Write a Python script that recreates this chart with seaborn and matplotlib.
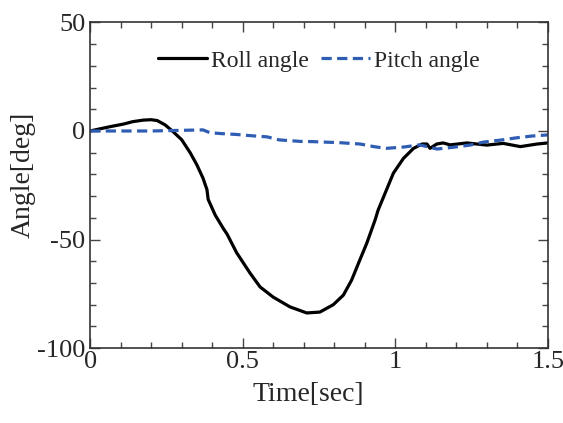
import numpy as np
import pandas as pd
import matplotlib
matplotlib.use("Agg")
import matplotlib.pyplot as plt
import seaborn as sns
from matplotlib.ticker import MultipleLocator

time_roll = [0, 0.016, 0.066, 0.11, 0.14, 0.174, 0.2, 0.22, 0.246, 0.272, 0.30, 0.328,
             0.35, 0.37, 0.383, 0.387, 0.41, 0.437, 0.449, 0.48, 0.524, 0.557, 0.6,
             0.655, 0.71, 0.753, 0.797, 0.83, 0.857, 0.884, 0.907, 0.934, 0.944, 0.967,
             0.994, 1.027, 1.06, 1.088, 1.104, 1.114, 1.136, 1.157, 1.18, 1.235, 1.30,
             1.354, 1.41, 1.465, 1.5]
roll = [0, 0.5, 2.0, 3.2, 4.3, 5.0, 5.2, 4.8, 2.8, -0.3, -4.0, -10.0,
        -15.6, -21.7, -27.0, -31.5, -38.7, -45.0, -47.5, -56.0, -65.4, -71.8, -76.5,
        -81.0, -83.8, -83.4, -80.0, -75.6, -68.7, -59.4, -51.6, -41.0, -36.4, -28.6,
        -19.4, -12.6, -8.0, -6.0, -6.0, -8.0, -6.0, -5.5, -6.4, -5.5, -6.5,
        -5.7, -7.2, -6.0, -5.5]

time_pitch = [0, 0.1, 0.2, 0.3, 0.37, 0.393, 0.43, 0.48, 0.53, 0.58, 0.62, 0.69, 0.73,
              0.82, 0.885, 0.93, 0.97, 1.027, 1.08, 1.137, 1.19, 1.245, 1.29, 1.345,
              1.40, 1.45, 1.5]
pitch = [0, 0, 0, 0.3, 0.5, -0.8, -1.2, -1.6, -2.2, -2.7, -4.1, -4.8, -4.9,
         -5.4, -6.0, -7.2, -8.0, -7.4, -6.4, -8.3, -7.5, -6.5, -5.1, -4.2,
         -3.1, -2.3, -1.8]

series_names = ["Roll angle", "Pitch angle"]
colors = ["#000000", "#2F5DB3"]

df = pd.concat([
    pd.DataFrame({"Time": time_roll, "Angle": roll, "Series": series_names[0]}),
    pd.DataFrame({"Time": time_pitch, "Angle": pitch, "Series": series_names[1]}),
])

sns.set_style("ticks")
plt.rcParams["font.family"] = ["Liberation Serif", "DejaVu Serif"]

fig = plt.figure(figsize=(5.63, 4.23), dpi=100)
ax = fig.add_axes([0.16, 0.177, 0.813, 0.770])

sns.lineplot(data=df, x="Time", y="Angle", hue="Series", style="Series",
             palette=colors, dashes={series_names[0]: "", series_names[1]: (3.2, 1.7)},
             linewidth=2.3, ax=ax, sort=False)
for ln in ax.lines:
    ln.set_solid_joinstyle("round")
    ln.set_solid_capstyle("round")

ax.set_xlim(0, 1.5)
ax.set_ylim(-100, 50)
ax.set_xticks([0, 0.5, 1, 1.5])
ax.set_xticklabels(["0", "0.5", "1", "1.5"])
ax.set_yticks([-100, -50, 0, 50])
ax.set_yticklabels(["-100", "-50", "0", "50"])
ax.xaxis.set_minor_locator(MultipleLocator(0.1))
ax.yaxis.set_minor_locator(MultipleLocator(10))
ax.tick_params(which="both", direction="in", top=True, right=True, labelsize=19,
               color="#444444", width=1.0)
ax.tick_params(axis="x", which="both", pad=2)
ax.tick_params(axis="y", which="both", pad=3.5)
ax.tick_params(which="major", length=7)
ax.tick_params(which="minor", length=4)
for s in ax.spines.values():
    s.set_visible(True)
    s.set_color("#333333")
    s.set_linewidth(1.2)

ax.set_xlabel("Time[sec]", fontsize=20)
ax.set_ylabel("Angle[deg]", fontsize=20)
ax.xaxis.set_label_coords(0.476, -0.105)
ax.yaxis.set_label_coords(-0.118, 0.531)

leg = ax.legend(loc="center", bbox_to_anchor=(0.5, (348 - 61) / 325.5), ncol=2,
                frameon=False, fontsize=17, handlelength=2.05, columnspacing=0.55,
                handletextpad=0.17)

fig.savefig("out.png", dpi=100)
